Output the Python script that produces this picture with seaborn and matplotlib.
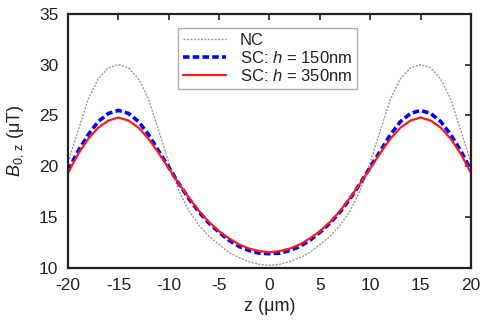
import numpy as np
import pandas as pd
import matplotlib
matplotlib.use("Agg")
import matplotlib.pyplot as plt
import seaborn as sns

z = list(range(-20, 21))
nc = [20.4, 23.5, 26.6, 28.6, 29.7, 30.0, 29.7, 28.6, 26.6, 23.5, 20.4,
      17.6, 15.6, 14.2, 13.1, 12.3, 11.5, 11.0, 10.6, 10.35, 10.25,
      10.35, 10.6, 11.0, 11.5, 12.3, 13.1, 14.2, 15.6, 17.6, 20.4,
      23.5, 26.6, 28.6, 29.7, 30.0, 29.7, 28.6, 26.6, 23.5, 20.4]
sc150 = [19.6, 21.5, 23.1, 24.4, 25.2, 25.5, 25.2, 24.4, 23.1, 21.5, 19.9,
         18.3, 16.8, 15.5, 14.4, 13.5, 12.7, 12.1, 11.7, 11.45, 11.4,
         11.45, 11.7, 12.1, 12.7, 13.5, 14.4, 15.5, 16.8, 18.3, 19.9,
         21.5, 23.1, 24.4, 25.2, 25.5, 25.2, 24.4, 23.1, 21.5, 19.6]
sc350 = [19.35, 21.2, 22.7, 23.8, 24.5, 24.8, 24.5, 23.8, 22.7, 21.3, 19.8,
         18.3, 16.9, 15.6, 14.5, 13.6, 12.9, 12.3, 11.9, 11.65, 11.55,
         11.65, 11.9, 12.3, 12.9, 13.6, 14.5, 15.6, 16.9, 18.3, 19.8,
         21.3, 22.7, 23.8, 24.5, 24.8, 24.5, 23.8, 22.7, 21.2, 19.35]
labels = ["NC", "SC: $h$ = 150nm", "SC: $h$ = 350nm"]
xticks = [-20, -15, -10, -5, 0, 5, 10, 15, 20]
yticks = [10, 15, 20, 25, 30, 35]

sns.set_style("white")
plt.rcParams['font.family'] = ['Liberation Sans', 'DejaVu Sans']
plt.rcParams['mathtext.fontset'] = 'custom'
plt.rcParams['mathtext.rm'] = 'Liberation Sans'
plt.rcParams['mathtext.it'] = 'Liberation Sans:italic'
plt.rcParams['axes.unicode_minus'] = False

df = pd.DataFrame({
    "z": z * 3,
    "B": nc + sc150 + sc350,
    "series": [labels[0]] * len(z) + [labels[1]] * len(z) + [labels[2]] * len(z),
})

fig = plt.figure(figsize=(4.86, 3.22), dpi=100)
ax = fig.add_axes([0.14, 0.168, 0.829, 0.789])

styles = {
    labels[0]: dict(color="#9a9a9a", lw=1.0, ls=(0, (1.5, 1))),
    labels[1]: dict(color="#0000ff", lw=2.6, ls=(0, (1.8, 0.9))),
    labels[2]: dict(color="#ff1a1a", lw=1.6, ls="-"),
}
for lab in labels:
    sub = df[df["series"] == lab]
    st = styles[lab]
    sns.lineplot(data=sub, x="z", y="B", ax=ax, label=lab, color=st["color"],
                 linewidth=st["lw"], linestyle=st["ls"])

ax.set_xlim(-20, 20)
ax.set_ylim(10, 35)
ax.set_xticks(xticks)
ax.set_yticks(yticks)
ax.tick_params(direction="in", length=4, width=1.2, top=True, right=True,
               labelsize=12.5, pad=7, colors="#222222")
for s in ax.spines.values():
    s.set_visible(True)
    s.set_linewidth(1.6)
    s.set_color("#222222")
ax.set_xlabel("z (μm)", fontsize=13, labelpad=4, color="#222222")
ax.set_ylabel(r"$B_{0,\,\mathrm{z}}$ (μT)", fontsize=13, labelpad=9, color="#222222")

leg = ax.legend(loc="upper left", bbox_to_anchor=(0.273, 0.945), borderaxespad=0,
                fontsize=12, frameon=True, fancybox=False, handlelength=2.6,
                handletextpad=0.8, borderpad=0.3, labelspacing=0.12)
leg.get_frame().set_edgecolor("#999999")
leg.get_frame().set_linewidth(1.0)
for t in leg.get_texts():
    t.set_color("#222222")

fig.savefig("out.png", dpi=100)
